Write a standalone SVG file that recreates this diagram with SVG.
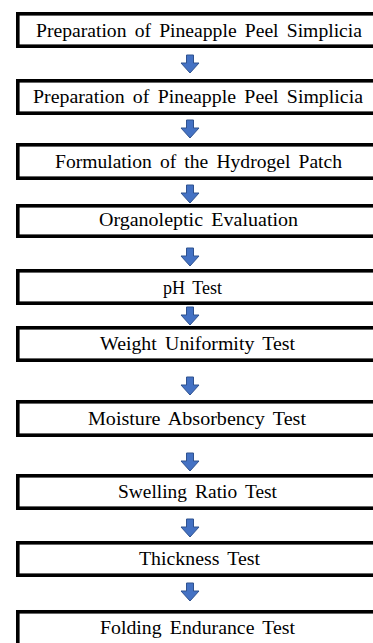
<svg xmlns="http://www.w3.org/2000/svg" width="373" height="643" viewBox="0 0 373 643">
<defs>
<style>
.box{fill:#fff;stroke:#000;stroke-width:3.6}
.lbl{font-family:"Liberation Serif","Times New Roman",serif;font-size:18px;fill:#000;text-anchor:middle;word-spacing:3px}
.arr{fill:#4472C4;stroke:#2F528F;stroke-width:1}
</style>
<path id="ar" d="M-3.5,0 H3.5 V8 H9 L0,18 L-9,8 H-3.5 Z"/>
</defs>
<rect width="373" height="643" fill="#fff"/>
<g id="connectors">
<use href="#ar" class="arr" transform="translate(190,55)"/>
<use href="#ar" class="arr" transform="translate(190,120)"/>
<use href="#ar" class="arr" transform="translate(190,185)"/>
<use href="#ar" class="arr" transform="translate(190,248)"/>
<use href="#ar" class="arr" transform="translate(190,307)"/>
<use href="#ar" class="arr" transform="translate(190,377)"/>
<use href="#ar" class="arr" transform="translate(190,453)"/>
<use href="#ar" class="arr" transform="translate(190,519)"/>
<use href="#ar" class="arr" transform="translate(190,583)"/>
</g>
<g id="n1"><rect class="box" x="17.8" y="13.8" width="370" height="32.4"/><text class="lbl" x="199" y="37" textLength="326" lengthAdjust="spacingAndGlyphs">Preparation of Pineapple Peel Simplicia</text></g>
<g id="n2"><rect class="box" x="17.8" y="80.8" width="370" height="32.4"/><text class="lbl" x="198" y="103" textLength="330" lengthAdjust="spacingAndGlyphs">Preparation of Pineapple Peel Simplicia</text></g>
<g id="n3"><rect class="box" x="17.8" y="144.8" width="370" height="33.4"/><text class="lbl" x="198.5" y="167.5" textLength="287" lengthAdjust="spacingAndGlyphs">Formulation of the Hydrogel Patch</text></g>
<g id="n4"><rect class="box" x="17.8" y="205.8" width="370" height="30.4"/><text class="lbl" x="198.5" y="226" textLength="199" lengthAdjust="spacingAndGlyphs">Organoleptic Evaluation</text></g>
<g id="n5"><rect class="box" x="17.8" y="270.8" width="370" height="32.4"/><text class="lbl" x="192.5" y="294">pH Test</text></g>
<g id="n6"><rect class="box" x="17.8" y="327.8" width="370" height="32.4"/><text class="lbl" x="197.5" y="350" textLength="195" lengthAdjust="spacingAndGlyphs">Weight Uniformity Test</text></g>
<g id="n7"><rect class="box" x="17.8" y="401.8" width="370" height="33.4"/><text class="lbl" x="197" y="425" textLength="218" lengthAdjust="spacingAndGlyphs">Moisture Absorbency Test</text></g>
<g id="n8"><rect class="box" x="17.8" y="475.8" width="370" height="32.4"/><text class="lbl" x="197.5" y="498" textLength="159" lengthAdjust="spacingAndGlyphs">Swelling Ratio Test</text></g>
<g id="n9"><rect class="box" x="17.8" y="542.8" width="370" height="32.4"/><text class="lbl" x="199.5" y="565" textLength="121" lengthAdjust="spacingAndGlyphs">Thickness Test</text></g>
<g id="n10"><rect class="box" x="17.8" y="611.8" width="370" height="40"/><text class="lbl" x="197.5" y="634" textLength="195" lengthAdjust="spacingAndGlyphs">Folding Endurance Test</text></g>
</svg>
